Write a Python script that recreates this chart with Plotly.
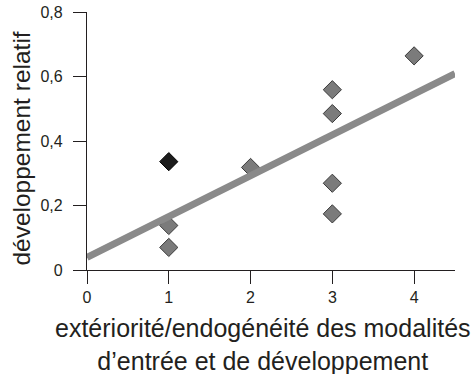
import numpy as np
import plotly.graph_objects as go

# data
x_vals = [1, 1, 2, 3, 3, 3, 3, 4]
y_vals = [0.138, 0.070, 0.318, 0.559, 0.485, 0.269, 0.174, 0.664]
x_highlight = [1]
y_highlight = [0.336]
x_ticks = [0, 1, 2, 3, 4]
y_ticks = [0, 0.2, 0.4, 0.6, 0.8]
y_tick_labels = ["0", "0,2", "0,4", "0,6", "0,8"]
x_title = "extériorité/endogénéité des modalités<br>d’entrée et de développement"
y_title = "développement relatif"

# regression line over all points
all_x = np.array(x_vals + x_highlight, dtype=float)
all_y = np.array(y_vals + y_highlight, dtype=float)
slope, intercept = np.polyfit(all_x, all_y, 1)
line_x = np.array([0.0, 4.5])
line_y = intercept + slope * line_x

FONT = "Liberation Sans, Arial, sans-serif"
INK = "#231f20"

fig = go.Figure()
fig.add_trace(go.Scatter(
    x=x_vals, y=y_vals, mode="markers",
    marker=dict(symbol="diamond", size=14, color="#7b7b7b",
                line=dict(color="#3a3a3a", width=1)),
    showlegend=False, cliponaxis=False,
))
fig.add_trace(go.Scatter(
    x=x_highlight, y=y_highlight, mode="markers",
    marker=dict(symbol="diamond", size=14, color="#1c1c1c",
                line=dict(color="#000000", width=1)),
    showlegend=False, cliponaxis=False,
))
fig.add_trace(go.Scatter(
    x=line_x, y=line_y, mode="lines",
    line=dict(color="#8a8a8a", width=7),
    showlegend=False,
))

fig.update_layout(
    width=473, height=374,
    margin=dict(l=87, r=18, t=12, b=104),
    paper_bgcolor="white", plot_bgcolor="white",
    separators=",.",
    font=dict(family=FONT, color=INK),
    hovermode=False,
    xaxis=dict(
        range=[0, 4.5], tickvals=x_ticks, ticktext=[str(v) for v in x_ticks],
        showgrid=False, zeroline=False, showline=True, linecolor=INK, linewidth=1.3,
        ticks="outside", ticklen=13, tickwidth=1.3, tickcolor=INK,
        tickfont=dict(size=16, family=FONT, color=INK),
        ticklabeloverflow="allow",
        automargin=False, fixedrange=True,
    ),
    yaxis=dict(
        range=[0, 0.8], tickvals=y_ticks, ticktext=y_tick_labels,
        showgrid=False, zeroline=False, showline=True, linecolor=INK, linewidth=1.3,
        ticks="outside", ticklen=13, tickwidth=1.3, tickcolor=INK,
        tickfont=dict(size=16, family=FONT, color=INK),
        ticklabelstandoff=7, ticklabeloverflow="allow",
        automargin=False, fixedrange=True,
    ),
    annotations=[
        dict(text=x_title, xref="paper", yref="paper", x=0.4796, y=-0.287,
             xanchor="center", yanchor="middle", showarrow=False,
             font=dict(size=25, family=FONT, color=INK)),
        dict(text=y_title, xref="paper", yref="paper", x=-0.179, y=0.471,
             xanchor="center", yanchor="middle", showarrow=False, textangle=-90,
             font=dict(size=24.5, family=FONT, color=INK)),
    ],
)

fig.write_html("out.html", config={"displayModeBar": False},
               post_script="document.body.style.margin='0';")
